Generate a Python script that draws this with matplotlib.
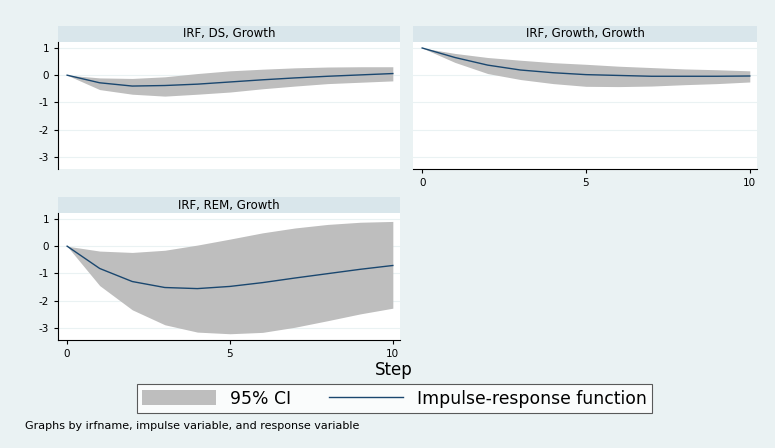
import numpy as np
import matplotlib.pyplot as plt
from matplotlib.patches import Patch
from matplotlib.lines import Line2D

steps = [0, 1, 2, 3, 4, 5, 6, 7, 8, 9, 10]

ds_irf = [0, -0.28, -0.40, -0.38, -0.33, -0.25, -0.17, -0.10, -0.04, 0.01, 0.06]
ds_lo = [0, -0.53, -0.70, -0.77, -0.70, -0.62, -0.50, -0.40, -0.31, -0.26, -0.21]
ds_hi = [0, -0.10, -0.12, -0.06, 0.06, 0.16, 0.22, 0.27, 0.30, 0.31, 0.31]

gr_irf = [1.0, 0.65, 0.37, 0.19, 0.09, 0.02, -0.01, -0.04, -0.04, -0.04, -0.03]
gr_lo = [1.0, 0.47, 0.06, -0.16, -0.31, -0.41, -0.42, -0.40, -0.35, -0.31, -0.25]
gr_hi = [1.0, 0.80, 0.65, 0.55, 0.46, 0.40, 0.33, 0.28, 0.23, 0.20, 0.16]

rem_irf = [0, -0.82, -1.30, -1.52, -1.56, -1.48, -1.34, -1.17, -1.01, -0.85, -0.71]
rem_lo = [0, -1.45, -2.34, -2.89, -3.16, -3.22, -3.17, -2.98, -2.74, -2.49, -2.28]
rem_hi = [0, -0.18, -0.23, -0.15, 0.04, 0.26, 0.49, 0.67, 0.80, 0.88, 0.91]

titles = ["IRF, DS, Growth", "IRF, Growth, Growth", "IRF, REM, Growth"]
yticks = [1, 0, -1, -2, -3]
xticks = [0, 5, 10]

BG = '#EAF2F3'
STRIP = '#D9E6EB'
CI = '#BEBEBE'
NAVY = '#1A476F'

W, H = 775, 448
fig = plt.figure(figsize=(W / 100, H / 100), dpi=100)
fig.patch.set_facecolor(BG)


def px_axes(x0, y0, x1, y1):
    return fig.add_axes([x0 / W, 1 - y1 / H, (x1 - x0) / W, (y1 - y0) / H])


def panel(box, title, irf, lo, hi, show_x, show_y):
    x0, y0, x1, y1 = box
    # title strip
    st = px_axes(x0, y0 - 16, x1, y0)
    st.set_facecolor(STRIP)
    st.set_xticks([])
    st.set_yticks([])
    for s in st.spines.values():
        s.set_visible(False)
    st.text(0.5, 0.5, title, ha='center', va='center', fontsize=8.5,
            transform=st.transAxes)

    ax = px_axes(x0, y0, x1, y1)
    ax.set_facecolor('white')
    ax.fill_between(steps, lo, hi, color=CI, linewidth=0)
    ax.plot(steps, irf, color=NAVY, linewidth=1.0)
    ax.set_xlim(-0.28, 10.22)
    ax.set_ylim(-3.45, 1.22)
    ax.set_yticks(yticks)
    for yv in yticks:
        ax.axhline(yv, color=BG, linewidth=0.8, zorder=0)
    for s in ['top', 'right']:
        ax.spines[s].set_visible(False)
    ax.spines['left'].set_visible(show_y)
    ax.spines['bottom'].set_visible(show_x)
    ax.tick_params(labelsize=7.5, length=3, width=0.8)
    if show_y:
        ax.set_yticklabels([str(v) for v in yticks])
    else:
        ax.tick_params(axis='y', left=False, labelleft=False)
    if show_x:
        ax.set_xticks(xticks)
    else:
        ax.set_xticks([])
    return ax


panel((58, 42, 400, 169), titles[0], ds_irf, ds_lo, ds_hi, False, True)
panel((413, 42, 757, 169), titles[1], gr_irf, gr_lo, gr_hi, True, False)
panel((58, 213, 400, 340), titles[2], rem_irf, rem_lo, rem_hi, True, True)

fig.text(394 / W, 1 - 370 / H, "Step", ha='center', va='center', fontsize=12)

handles = [Patch(facecolor=CI, edgecolor='none'),
           Line2D([0], [0], color=NAVY, linewidth=1.0)]
leg = fig.legend(handles, ["95% CI", "Impulse-response function"],
                 loc='center', bbox_to_anchor=(394.5 / W, 1 - 398.5 / H),
                 ncol=2, fontsize=12.4, frameon=True, fancybox=False,
                 handlelength=4.3, handleheight=0.9, columnspacing=2.2,
                 borderpad=0.3, handletextpad=0.8, borderaxespad=0)
leg.get_frame().set_edgecolor('#333333')
leg.get_frame().set_linewidth(0.8)

fig.text(25 / W, 1 - 426 / H, "Graphs by irfname, impulse variable, and response variable",
         ha='left', va='center', fontsize=8)

fig.savefig('out.png', dpi=100, facecolor=BG)
